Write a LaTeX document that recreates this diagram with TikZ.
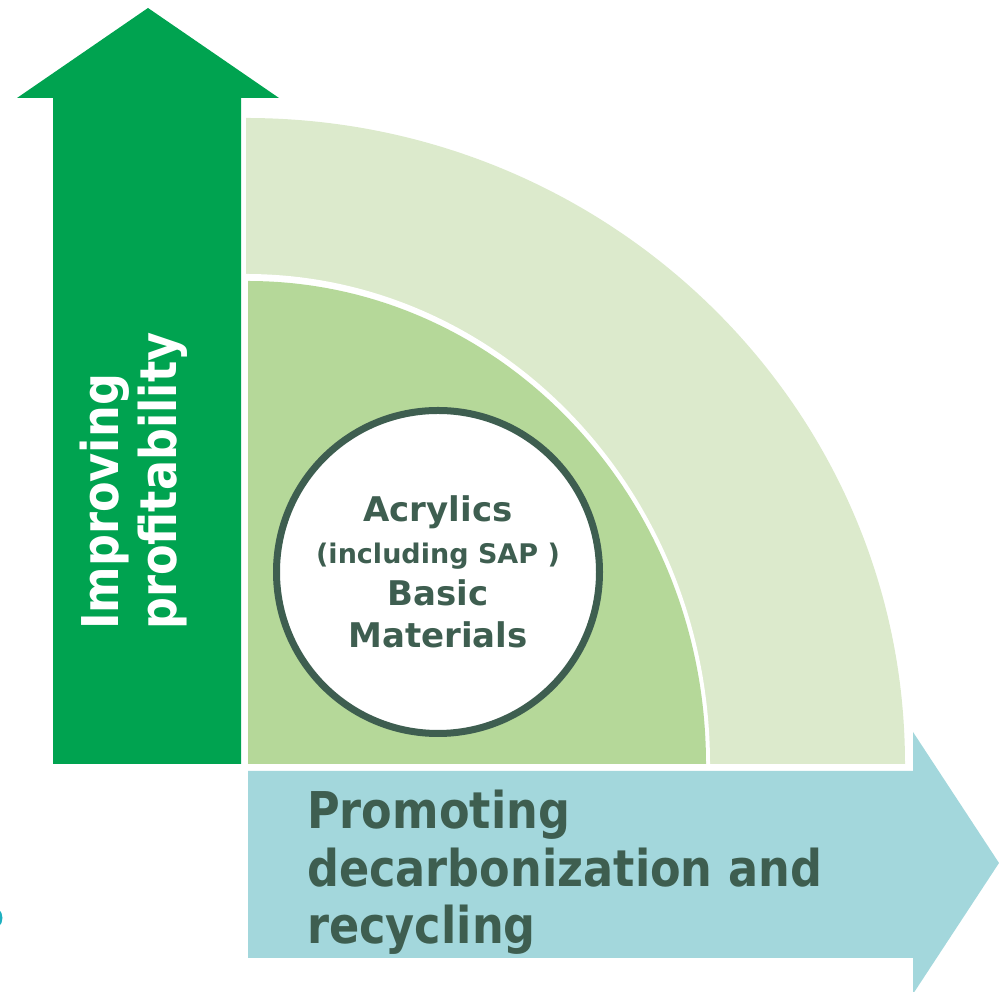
\documentclass[tikz,border=0pt]{standalone}
\usepackage{fontspec}
\setmainfont{DejaVu Sans}
\newfontfamily\narrowsans[FakeStretch=0.88]{DejaVu Sans}
\usepackage{xcolor}
\usepackage{tikz}
\usetikzlibrary{
	shapes
}

\definecolor{arrowgreen}{RGB}{0,163,80}
\definecolor{paleleaf}{RGB}{220,234,204}
\definecolor{midleaf}{RGB}{181,216,153}
\definecolor{aqua}{RGB}{163,215,220}
\definecolor{slate}{RGB}{62,94,80}
\definecolor{edgeteal}{RGB}{30,176,192}

\begin{document}
\begin{tikzpicture}[x=1pt,y=1pt,
		axistext/.style={inner sep=0pt,align=left,font={\narrowsans\bfseries\fontsize{50.7}{57.5}\selectfont}}]
		\useasboundingbox (0,0) rectangle (999,992);
		
		%
		\fill[arrowgreen] (53,228) -- (241,228) -- (241,894) -- (279,894) -- (148,984) -- (17,894) -- (53,894) -- cycle;
		\fill[aqua] (248,221) -- (913,221) -- (913,260) -- (999,129) -- (913,-2) -- (913,34) -- (248,34) -- cycle;
		\fill[edgeteal] (-10,74) circle (12.5);
		
		%
		\fill[paleleaf] (246,228) -- (246,874) arc[start angle=90,end angle=0,x radius=659,y radius=646] -- cycle;
		\fill[white] (246,228) -- (246,718) arc[start angle=90,end angle=0,x radius=464,y radius=490] -- cycle;
		\fill[midleaf] (248,228) -- (248,711) arc[start angle=90,end angle=0,x radius=458,y radius=483] -- cycle;
		
		\node[circle,draw=slate,line width=7pt,fill=white,minimum size=323pt,inner sep=0pt,align=center,text=slate,
			font={\bfseries\fontsize{34}{42}\selectfont}] (core) at (438,420)
			{Acrylics\\{\fontsize{27}{42}\selectfont (including SAP )}\\Basic\\Materials};
		
		\node[axistext,text=slate,anchor=north west] (decarb) at (307,202) {Promoting\\decarbonization and\\recycling};
		\node[axistext,text=white,rotate=90,anchor=north west] (profit) at (80,362) {Improving\\profitability};
		
	\end{tikzpicture}
\end{document}
